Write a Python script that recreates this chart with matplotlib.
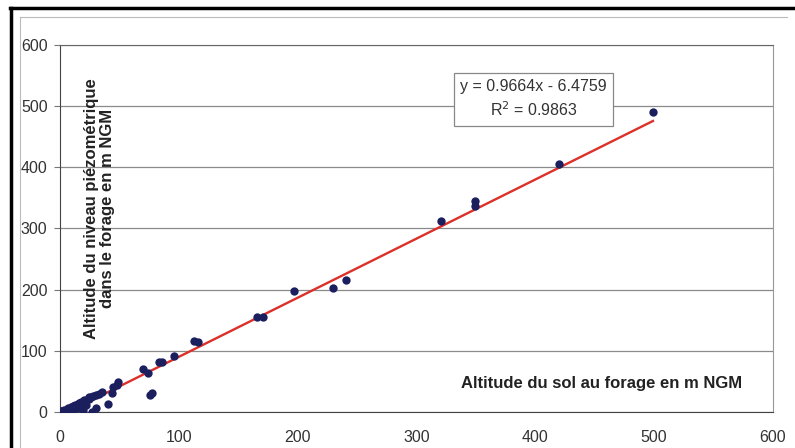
import matplotlib.pyplot as plt
from matplotlib.lines import Line2D

plt.rcParams['font.family'] = ['Liberation Sans', 'DejaVu Sans']

# ground altitude at the borehole (m NGM)
alt_sol = [1, 2, 3, 3, 4, 5, 6, 6, 7, 8, 9, 10, 11, 12, 13, 14, 15, 16, 17,
           18, 19, 20, 21, 22, 24, 26, 28, 30, 33, 19, 27, 30, 24, 35, 40,
           44, 45, 49, 48, 77, 76, 70, 74, 83, 86, 96, 113, 116, 166, 171,
           197, 230, 241, 321, 349, 349, 420, 499, 10, 14, 18, 22]
# piezometric level in the borehole (m NGM)
alt_piezo = [2, 1, 3, 0, 2, 4, 3, 1, 6, 5, 8, 7, 9, 10, 12, 11, 13, 15, 14,
             16, 17, 19, 18, 20, 22, 24, 26, 28, 30, 3, 0, 6, 25, 33, 13,
             31, 41, 49, 44, 31, 28, 70, 64, 82, 82, 91, 116, 114, 155, 155,
             197, 203, 215, 313, 345, 337, 406, 490, 3, 6, 9, 12]

pente = 0.9664
ordonnee = -6.4759
r2 = 0.9863

fig = plt.figure(figsize=(7.95, 4.48), dpi=100)
ax = fig.add_axes([0.0755, 0.0804, 0.8968, 0.8192])

ax.scatter(alt_sol, alt_piezo, s=36, color='#1c1f5e', zorder=3, linewidths=0)
x0, x1 = min(alt_sol), max(alt_sol)
ax.plot([x0, x1], [pente * x0 + ordonnee, pente * x1 + ordonnee],
        color='#dc3029', lw=1.7, zorder=2)

ax.set_xlim(0, 600)
ax.set_ylim(0, 600)
ax.set_xticks(range(0, 601, 100))
ax.set_yticks(range(0, 601, 100))
ax.yaxis.grid(True, color='#8a8a8a', lw=0.9)
ax.set_axisbelow(True)
ax.tick_params(axis='both', labelsize=11.5, labelcolor='#333333', color='#777777',
               length=4, pad=5)
ax.tick_params(axis='x', length=0, pad=13)
for side in ['left', 'bottom']:
    ax.spines[side].set_color('#444444')
ax.spines['top'].set_color('#666666')
ax.spines['right'].set_color('#999999')

ax.text(0.055, 0.555, 'Altitude du niveau piézométrique\ndans le forage en m NGM',
        transform=ax.transAxes, rotation=90, ha='center', va='center',
        fontsize=12, fontweight='bold', color='#222222', linespacing=1.05)
ax.text(0.76, 0.078, 'Altitude du sol au forage en m NGM',
        transform=ax.transAxes, ha='center', va='center',
        fontsize=12, fontweight='bold', color='#222222')

ax.text(0.664, 0.852, 'y = %.4fx - %.4f\nR$^2$ = %.4f' % (pente, -ordonnee, r2),
        transform=ax.transAxes, ha='center', va='center', fontsize=11.5,
        color='#333333', linespacing=1.4, multialignment='center',
        bbox=dict(boxstyle='square,pad=0.4', fc='white', ec='#888888', lw=0.9))

# outer frame of the chart sheet
fig.add_artist(Line2D([0.0138, 0.0138], [0, 0.982], color='black', lw=2.5))
fig.add_artist(Line2D([0.0125, 1], [0.982, 0.982], color='black', lw=2.5))
fig.add_artist(Line2D([0.025, 0.025], [0, 0.962], color='#bbbbbb', lw=0.8))
fig.add_artist(Line2D([0.025, 0.99], [0.962, 0.962], color='#bbbbbb', lw=0.8))

fig.savefig('out.png', dpi=100)
